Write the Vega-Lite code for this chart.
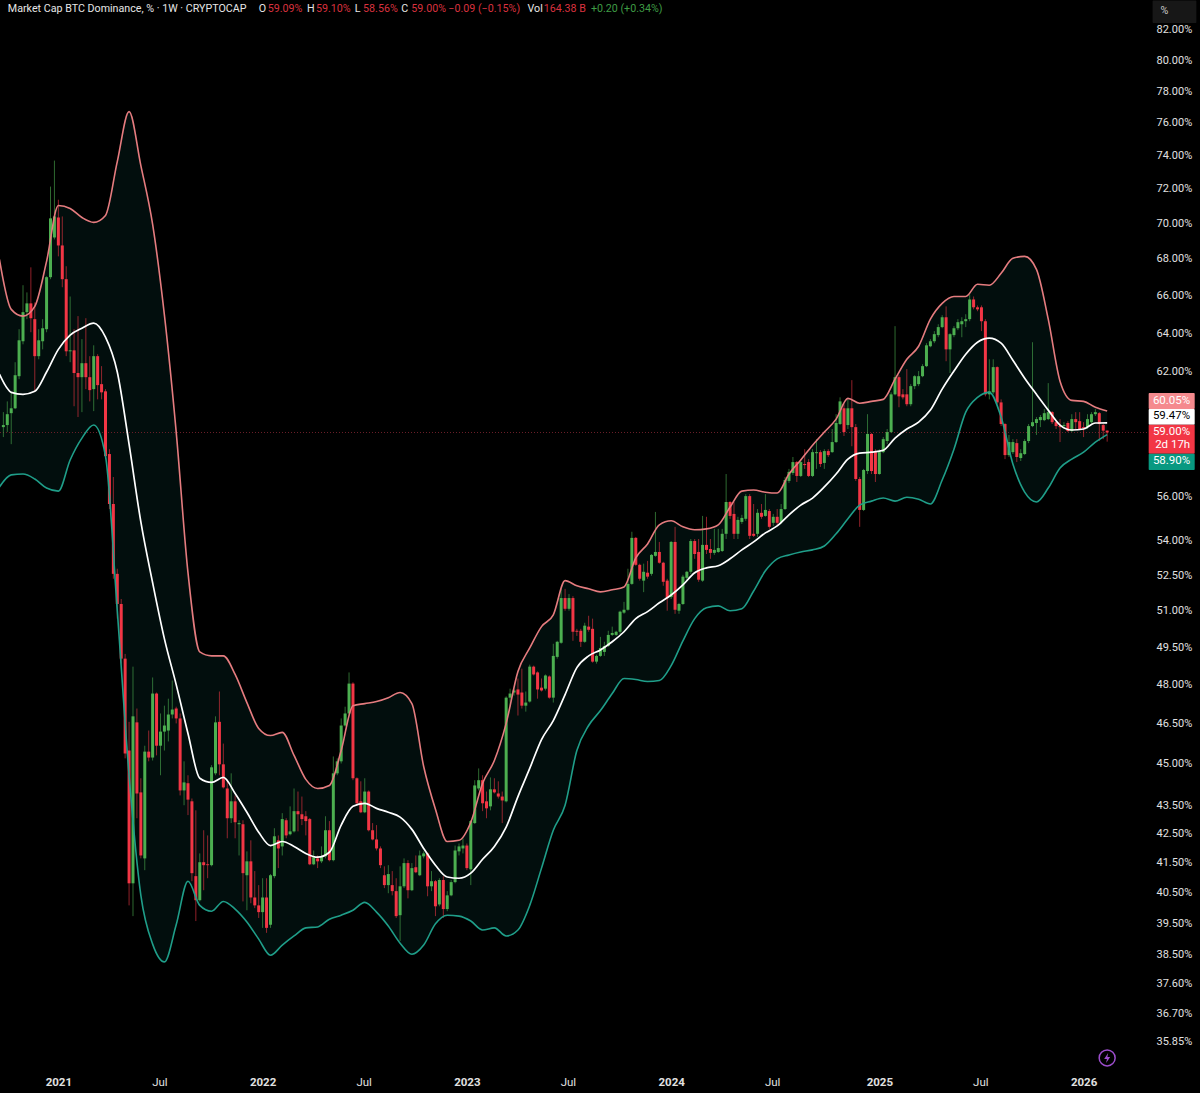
{
"$schema":"https://vega.github.io/schema/vega-lite/v6.json",
"width":1147,"height":1068,"autosize":"none","padding":{"left":0,"top":0,"right":53,"bottom":25},
"background":"#000000",
"config":{"view":{"stroke":null},"font":"Roboto"},
"resolve":{"scale":{"color":"independent"}},
"datasets":{
"candles":[
{"date":"2020-09-28","open":59.26,"high":59.99,"low":58.78,"close":59.36},
{"date":"2020-10-05","open":59.36,"high":60.52,"low":59.02,"close":59.89},
{"date":"2020-10-12","open":59.94,"high":60.97,"low":58.44,"close":60.18},
{"date":"2020-10-19","open":60.18,"high":62.49,"low":60.14,"close":61.83},
{"date":"2020-10-26","open":61.78,"high":64.2,"low":61.63,"close":63.62},
{"date":"2020-11-02","open":63.57,"high":66.55,"low":63.41,"close":65.1},
{"date":"2020-11-09","open":65.1,"high":66.16,"low":64.73,"close":65.57},
{"date":"2020-11-16","open":65.57,"high":67.53,"low":64.04,"close":64.78},
{"date":"2020-11-23","open":64.73,"high":65.62,"low":61.02,"close":62.8},
{"date":"2020-11-30","open":62.8,"high":64.2,"low":62.64,"close":63.62},
{"date":"2020-12-07","open":63.57,"high":64.73,"low":63.15,"close":64.25},
{"date":"2020-12-14","open":64.2,"high":67.04,"low":64.04,"close":66.99},
{"date":"2020-12-21","open":66.99,"high":72.14,"low":66.88,"close":70.29},
{"date":"2020-12-28","open":69.2,"high":73.69,"low":69.09,"close":70.4},
{"date":"2021-01-04","open":70.34,"high":71.37,"low":68.14,"close":68.75},
{"date":"2021-01-11","open":68.75,"high":70.4,"low":66.44,"close":66.88},
{"date":"2021-01-18","open":66.88,"high":67.59,"low":62.8,"close":63.05},
{"date":"2021-01-25","open":63.05,"high":65.94,"low":62.49,"close":63.1},
{"date":"2021-02-01","open":63.1,"high":64.2,"low":60.28,"close":61.94},
{"date":"2021-02-08","open":61.94,"high":64.89,"low":59.75,"close":61.73},
{"date":"2021-02-15","open":61.73,"high":63.68,"low":59.99,"close":62.44},
{"date":"2021-02-22","open":62.44,"high":64.78,"low":61.13,"close":61.73},
{"date":"2021-03-01","open":61.73,"high":62.8,"low":60.52,"close":61.08},
{"date":"2021-03-08","open":61.13,"high":63.36,"low":60.04,"close":62.8},
{"date":"2021-03-15","open":62.8,"high":62.9,"low":60.62,"close":61.33},
{"date":"2021-03-22","open":61.38,"high":62.29,"low":60.62,"close":60.97},
{"date":"2021-03-29","open":61.02,"high":61.13,"low":57.73,"close":57.87},
{"date":"2021-04-05","open":57.97,"high":58.2,"low":55.42,"close":55.65},
{"date":"2021-04-12","open":55.65,"high":56.89,"low":52.35,"close":52.56},
{"date":"2021-04-19","open":52.56,"high":52.78,"low":50.67,"close":51.28},
{"date":"2021-04-26","open":51.28,"high":51.49,"low":48.84,"close":49.04},
{"date":"2021-05-03","open":49.04,"high":49.23,"low":45.2,"close":45.38},
{"date":"2021-05-10","open":45.49,"high":46.57,"low":40.08,"close":40.81},
{"date":"2021-05-17","open":40.81,"high":48.72,"low":39.73,"close":46.78},
{"date":"2021-05-24","open":46.55,"high":47.08,"low":43.04,"close":43.92},
{"date":"2021-05-31","open":43.96,"high":44.47,"low":41.65,"close":41.75},
{"date":"2021-06-07","open":41.65,"high":45.67,"low":41.25,"close":45.45},
{"date":"2021-06-14","open":45.45,"high":46.24,"low":45.09,"close":45.23},
{"date":"2021-06-21","open":45.23,"high":48.29,"low":45.12,"close":47.66},
{"date":"2021-06-28","open":47.66,"high":47.7,"low":45.31,"close":45.67},
{"date":"2021-07-05","open":45.67,"high":46.89,"low":44.58,"close":46.2},
{"date":"2021-07-12","open":46.2,"high":47.19,"low":45.49,"close":46.43},
{"date":"2021-07-19","open":46.24,"high":47.46,"low":45.83,"close":46.85},
{"date":"2021-07-26","open":46.85,"high":48.17,"low":46.7,"close":47.04},
{"date":"2021-08-02","open":47.08,"high":47.15,"low":46.51,"close":46.7},
{"date":"2021-08-09","open":46.7,"high":46.89,"low":43.85,"close":44.03},
{"date":"2021-08-16","open":44.03,"high":45.09,"low":43.5,"close":44.32},
{"date":"2021-08-23","open":44.29,"high":44.58,"low":43.15,"close":43.7},
{"date":"2021-08-30","open":43.64,"high":43.74,"low":40.88,"close":41.15},
{"date":"2021-09-06","open":41.05,"high":43.32,"low":39.57,"close":40.25},
{"date":"2021-09-13","open":40.25,"high":41.82,"low":40.21,"close":41.52},
{"date":"2021-09-20","open":41.52,"high":42.62,"low":40.58,"close":41.42},
{"date":"2021-09-27","open":41.45,"high":42.44,"low":40.98,"close":41.42},
{"date":"2021-10-04","open":41.42,"high":44.95,"low":41.38,"close":44.87},
{"date":"2021-10-11","open":44.65,"high":46.78,"low":44.58,"close":46.55},
{"date":"2021-10-18","open":46.57,"high":47.74,"low":44.58,"close":44.98},
{"date":"2021-10-25","open":44.98,"high":45.75,"low":44.1,"close":44.14},
{"date":"2021-11-01","open":44.1,"high":44.36,"low":42.34,"close":43.04},
{"date":"2021-11-08","open":43.04,"high":44.65,"low":42.87,"close":43.64},
{"date":"2021-11-15","open":43.64,"high":43.85,"low":42.34,"close":42.9},
{"date":"2021-11-22","open":42.83,"high":42.97,"low":41.75,"close":42.87},
{"date":"2021-11-29","open":42.83,"high":42.97,"low":40.21,"close":41.15},
{"date":"2021-12-06","open":41.08,"high":41.89,"low":39.92,"close":41.55},
{"date":"2021-12-13","open":41.55,"high":42.27,"low":40.15,"close":40.34},
{"date":"2021-12-20","open":40.34,"high":41.22,"low":39.99,"close":40.08},
{"date":"2021-12-27","open":40.08,"high":40.75,"low":39.67,"close":39.86},
{"date":"2022-01-03","open":39.86,"high":40.98,"low":39.35,"close":40.34},
{"date":"2022-01-10","open":40.34,"high":40.98,"low":39.19,"close":39.35},
{"date":"2022-01-17","open":39.45,"high":41.12,"low":39.35,"close":41.08},
{"date":"2022-01-24","open":41.05,"high":42.69,"low":40.98,"close":42.41},
{"date":"2022-01-31","open":42.27,"high":42.44,"low":41.32,"close":41.99},
{"date":"2022-02-07","open":42.06,"high":43.22,"low":41.75,"close":43.01},
{"date":"2022-02-14","open":42.97,"high":43.04,"low":42.34,"close":42.44},
{"date":"2022-02-21","open":42.48,"high":43.46,"low":42.44,"close":42.58},
{"date":"2022-02-28","open":42.58,"high":44.1,"low":42.54,"close":43.29},
{"date":"2022-03-07","open":43.29,"high":43.99,"low":42.58,"close":43.18},
{"date":"2022-03-14","open":43.18,"high":43.81,"low":42.8,"close":43.01},
{"date":"2022-03-21","open":43.11,"high":43.29,"low":42.44,"close":42.94},
{"date":"2022-03-28","open":43.01,"high":43.05,"low":41.42,"close":41.45},
{"date":"2022-04-04","open":41.45,"high":41.92,"low":41.42,"close":41.69},
{"date":"2022-04-11","open":41.65,"high":41.75,"low":41.32,"close":41.55},
{"date":"2022-04-18","open":41.55,"high":42.06,"low":41.49,"close":41.72},
{"date":"2022-04-25","open":41.72,"high":43.11,"low":41.65,"close":42.62},
{"date":"2022-05-02","open":42.62,"high":42.94,"low":41.55,"close":41.59},
{"date":"2022-05-09","open":41.59,"high":45.27,"low":41.55,"close":44.65},
{"date":"2022-05-16","open":44.65,"high":45.2,"low":44.58,"close":45.09},
{"date":"2022-05-23","open":45.09,"high":46.7,"low":45.01,"close":46.43},
{"date":"2022-05-30","open":46.43,"high":47.15,"low":46.39,"close":46.89},
{"date":"2022-06-06","open":46.89,"high":48.49,"low":46.81,"close":48.05},
{"date":"2022-06-13","open":48.05,"high":48.1,"low":44.4,"close":44.47},
{"date":"2022-06-20","open":44.47,"high":44.5,"low":43.5,"close":43.57},
{"date":"2022-06-27","open":43.64,"high":44.36,"low":43.22,"close":43.25},
{"date":"2022-07-04","open":43.25,"high":44.47,"low":43.22,"close":43.99},
{"date":"2022-07-11","open":43.99,"high":44.03,"low":42.58,"close":42.62},
{"date":"2022-07-18","open":42.62,"high":42.87,"low":42.27,"close":42.3},
{"date":"2022-07-25","open":42.3,"high":42.8,"low":41.92,"close":41.99},
{"date":"2022-08-01","open":41.99,"high":42.06,"low":41.32,"close":41.42},
{"date":"2022-08-08","open":41.08,"high":41.38,"low":40.65,"close":40.75},
{"date":"2022-08-15","open":40.75,"high":41.42,"low":40.48,"close":41.12},
{"date":"2022-08-22","open":40.75,"high":41.22,"low":40.41,"close":40.55},
{"date":"2022-08-29","open":40.55,"high":40.98,"low":39.67,"close":39.73},
{"date":"2022-09-05","open":39.76,"high":41.38,"low":38.93,"close":40.71},
{"date":"2022-09-12","open":40.71,"high":41.65,"low":40.65,"close":41.49},
{"date":"2022-09-19","open":41.49,"high":41.59,"low":40.31,"close":40.58},
{"date":"2022-09-26","open":40.58,"high":41.49,"low":40.55,"close":41.32},
{"date":"2022-10-03","open":41.35,"high":41.75,"low":41.15,"close":41.18},
{"date":"2022-10-10","open":41.08,"high":41.92,"low":41.05,"close":41.75},
{"date":"2022-10-17","open":41.72,"high":41.89,"low":41.65,"close":41.82},
{"date":"2022-10-24","open":41.82,"high":41.85,"low":40.38,"close":40.71},
{"date":"2022-10-31","open":40.71,"high":41.22,"low":40.55,"close":40.88},
{"date":"2022-11-07","open":40.88,"high":40.92,"low":39.73,"close":40.05},
{"date":"2022-11-14","open":40.11,"high":40.98,"low":40.05,"close":40.92},
{"date":"2022-11-21","open":40.92,"high":41.05,"low":39.67,"close":39.96},
{"date":"2022-11-28","open":39.96,"high":40.55,"low":39.89,"close":40.41},
{"date":"2022-12-05","open":40.41,"high":40.92,"low":40.38,"close":40.85},
{"date":"2022-12-12","open":40.85,"high":42.09,"low":40.81,"close":41.92},
{"date":"2022-12-19","open":41.89,"high":42.16,"low":41.75,"close":42.06},
{"date":"2022-12-26","open":41.99,"high":42.34,"low":41.82,"close":42.09},
{"date":"2023-01-02","open":42.09,"high":42.16,"low":41.25,"close":41.32},
{"date":"2023-01-09","open":41.28,"high":42.97,"low":40.75,"close":42.94},
{"date":"2023-01-16","open":42.87,"high":44.4,"low":42.84,"close":44.21},
{"date":"2023-01-23","open":44.1,"high":44.83,"low":44.03,"close":44.4},
{"date":"2023-01-30","open":44.4,"high":44.58,"low":43.29,"close":43.57},
{"date":"2023-02-06","open":43.64,"high":43.99,"low":43.04,"close":43.39},
{"date":"2023-02-13","open":43.46,"high":44.5,"low":43.32,"close":44.07},
{"date":"2023-02-20","open":44.07,"high":44.47,"low":43.92,"close":43.96},
{"date":"2023-02-27","open":43.92,"high":44.36,"low":43.74,"close":43.81},
{"date":"2023-03-06","open":43.81,"high":43.99,"low":42.87,"close":43.67},
{"date":"2023-03-13","open":43.64,"high":47.55,"low":43.6,"close":47.5},
{"date":"2023-03-20","open":47.5,"high":47.85,"low":47.15,"close":47.66},
{"date":"2023-03-27","open":47.7,"high":47.85,"low":47.58,"close":47.78},
{"date":"2023-04-03","open":47.82,"high":48.25,"low":46.81,"close":47.62},
{"date":"2023-04-10","open":47.7,"high":48.64,"low":47.08,"close":47.19},
{"date":"2023-04-17","open":47.19,"high":47.74,"low":46.96,"close":47.31},
{"date":"2023-04-24","open":47.35,"high":48.8,"low":47.31,"close":48.72},
{"date":"2023-05-01","open":48.72,"high":48.76,"low":48.37,"close":48.41},
{"date":"2023-05-08","open":48.49,"high":48.53,"low":47.46,"close":47.82},
{"date":"2023-05-15","open":47.89,"high":48.25,"low":47.74,"close":47.78},
{"date":"2023-05-22","open":47.85,"high":48.41,"low":47.78,"close":48.37},
{"date":"2023-05-29","open":48.33,"high":48.37,"low":47.46,"close":47.5},
{"date":"2023-06-05","open":47.5,"high":49.64,"low":47.31,"close":49.15},
{"date":"2023-06-12","open":49.11,"high":49.76,"low":49.04,"close":49.72},
{"date":"2023-06-19","open":49.68,"high":51.92,"low":49.64,"close":51.53},
{"date":"2023-06-26","open":51.53,"high":51.92,"low":51.0,"close":51.08},
{"date":"2023-07-03","open":51.08,"high":51.7,"low":51.0,"close":51.53},
{"date":"2023-07-10","open":51.53,"high":51.61,"low":49.76,"close":50.13},
{"date":"2023-07-17","open":50.17,"high":50.25,"low":49.96,"close":50.13},
{"date":"2023-07-24","open":50.17,"high":50.25,"low":49.51,"close":49.72},
{"date":"2023-07-31","open":49.72,"high":50.5,"low":49.68,"close":50.38},
{"date":"2023-08-07","open":50.34,"high":50.79,"low":50.13,"close":50.21},
{"date":"2023-08-14","open":50.25,"high":50.67,"low":48.88,"close":48.92},
{"date":"2023-08-21","open":48.92,"high":49.2,"low":48.84,"close":49.15},
{"date":"2023-08-28","open":49.15,"high":49.92,"low":49.11,"close":49.47},
{"date":"2023-09-04","open":49.31,"high":49.72,"low":49.15,"close":49.55},
{"date":"2023-09-11","open":49.55,"high":50.17,"low":49.51,"close":50.0},
{"date":"2023-09-18","open":50.0,"high":50.34,"low":49.96,"close":50.08},
{"date":"2023-09-25","open":50.0,"high":50.17,"low":49.96,"close":50.13},
{"date":"2023-10-02","open":50.13,"high":51.0,"low":50.04,"close":50.96},
{"date":"2023-10-09","open":50.92,"high":51.37,"low":50.87,"close":51.04},
{"date":"2023-10-16","open":51.04,"high":52.78,"low":51.0,"close":52.13},
{"date":"2023-10-23","open":52.13,"high":54.4,"low":52.09,"close":54.13},
{"date":"2023-10-30","open":54.13,"high":54.17,"low":52.91,"close":52.95},
{"date":"2023-11-06","open":52.95,"high":53.0,"low":52.27,"close":52.35},
{"date":"2023-11-13","open":52.27,"high":53.0,"low":51.78,"close":52.65},
{"date":"2023-11-20","open":52.61,"high":53.12,"low":52.35,"close":52.44},
{"date":"2023-11-27","open":52.56,"high":53.42,"low":52.48,"close":53.38},
{"date":"2023-12-04","open":53.34,"high":55.29,"low":53.3,"close":53.51},
{"date":"2023-12-11","open":53.51,"high":53.95,"low":53.0,"close":53.04},
{"date":"2023-12-18","open":53.04,"high":53.08,"low":52.05,"close":52.22},
{"date":"2023-12-25","open":52.27,"high":52.35,"low":51.0,"close":51.53},
{"date":"2024-01-01","open":51.57,"high":53.99,"low":51.49,"close":53.95},
{"date":"2024-01-08","open":53.95,"high":54.62,"low":50.87,"close":51.04},
{"date":"2024-01-15","open":51.0,"high":51.33,"low":50.87,"close":51.28},
{"date":"2024-01-22","open":51.28,"high":52.52,"low":51.24,"close":52.44},
{"date":"2024-01-29","open":52.39,"high":52.69,"low":52.27,"close":52.65},
{"date":"2024-02-05","open":52.65,"high":54.08,"low":52.56,"close":53.99},
{"date":"2024-02-12","open":53.99,"high":54.08,"low":53.21,"close":53.42},
{"date":"2024-02-19","open":53.51,"high":54.08,"low":52.22,"close":52.31},
{"date":"2024-02-26","open":52.27,"high":55.11,"low":52.22,"close":53.82},
{"date":"2024-03-04","open":53.82,"high":55.07,"low":53.42,"close":53.6},
{"date":"2024-03-11","open":53.64,"high":54.08,"low":53.21,"close":53.47},
{"date":"2024-03-18","open":53.47,"high":54.53,"low":53.38,"close":53.6},
{"date":"2024-03-25","open":53.51,"high":54.53,"low":53.47,"close":53.68},
{"date":"2024-04-01","open":53.55,"high":54.53,"low":53.51,"close":54.31},
{"date":"2024-04-08","open":54.31,"high":57.03,"low":54.08,"close":55.74},
{"date":"2024-04-15","open":55.74,"high":55.78,"low":54.98,"close":55.11},
{"date":"2024-04-22","open":55.2,"high":55.74,"low":54.08,"close":54.31},
{"date":"2024-04-29","open":54.31,"high":55.07,"low":54.08,"close":54.93},
{"date":"2024-05-06","open":54.84,"high":55.16,"low":54.75,"close":55.02},
{"date":"2024-05-13","open":54.98,"high":56.1,"low":54.89,"close":56.01},
{"date":"2024-05-20","open":56.01,"high":56.1,"low":54.08,"close":54.22},
{"date":"2024-05-27","open":54.31,"high":55.65,"low":54.17,"close":54.22},
{"date":"2024-06-03","open":54.31,"high":55.42,"low":54.17,"close":55.25},
{"date":"2024-06-10","open":55.25,"high":55.65,"low":54.98,"close":55.07},
{"date":"2024-06-17","open":55.11,"high":56.1,"low":55.07,"close":55.38},
{"date":"2024-06-24","open":55.33,"high":55.42,"low":54.53,"close":54.62},
{"date":"2024-07-01","open":54.8,"high":55.2,"low":54.66,"close":55.07},
{"date":"2024-07-08","open":55.07,"high":55.42,"low":54.66,"close":54.8},
{"date":"2024-07-15","open":54.84,"high":55.65,"low":54.75,"close":55.42},
{"date":"2024-07-22","open":55.42,"high":56.89,"low":55.38,"close":56.75},
{"date":"2024-07-29","open":56.71,"high":57.27,"low":56.62,"close":57.13},
{"date":"2024-08-05","open":57.08,"high":57.83,"low":56.99,"close":57.59},
{"date":"2024-08-12","open":57.59,"high":57.64,"low":56.66,"close":56.94},
{"date":"2024-08-19","open":56.94,"high":57.73,"low":56.89,"close":57.59},
{"date":"2024-08-26","open":57.5,"high":58.2,"low":57.27,"close":57.45},
{"date":"2024-09-02","open":57.59,"high":57.73,"low":56.89,"close":56.94},
{"date":"2024-09-09","open":56.94,"high":58.2,"low":56.89,"close":58.06},
{"date":"2024-09-16","open":58.01,"high":58.68,"low":57.27,"close":58.06},
{"date":"2024-09-23","open":58.06,"high":58.15,"low":57.36,"close":57.5},
{"date":"2024-09-30","open":57.55,"high":58.2,"low":57.27,"close":58.11},
{"date":"2024-10-07","open":58.11,"high":58.2,"low":57.83,"close":57.92},
{"date":"2024-10-14","open":58.06,"high":59.17,"low":58.03,"close":58.54},
{"date":"2024-10-21","open":58.54,"high":59.89,"low":58.5,"close":59.46},
{"date":"2024-10-28","open":59.41,"high":60.72,"low":59.36,"close":60.52},
{"date":"2024-11-04","open":60.18,"high":60.38,"low":58.83,"close":59.02},
{"date":"2024-11-11","open":59.36,"high":60.62,"low":59.17,"close":60.18},
{"date":"2024-11-18","open":60.18,"high":61.58,"low":58.34,"close":59.26},
{"date":"2024-11-25","open":59.26,"high":59.41,"low":56.71,"close":56.8},
{"date":"2024-12-02","open":56.8,"high":56.89,"low":54.62,"close":55.38},
{"date":"2024-12-09","open":55.38,"high":57.27,"low":55.33,"close":57.22},
{"date":"2024-12-16","open":57.17,"high":59.89,"low":57.03,"close":58.93},
{"date":"2024-12-23","open":58.93,"high":58.97,"low":57.03,"close":57.17},
{"date":"2024-12-30","open":58.06,"high":58.2,"low":56.66,"close":57.03},
{"date":"2025-01-06","open":57.03,"high":58.2,"low":57.0,"close":58.06},
{"date":"2025-01-13","open":58.06,"high":58.78,"low":58.01,"close":58.68},
{"date":"2025-01-20","open":58.59,"high":59.17,"low":58.44,"close":59.02},
{"date":"2025-01-27","open":59.02,"high":60.97,"low":58.97,"close":60.87},
{"date":"2025-02-03","open":60.87,"high":64.36,"low":60.82,"close":61.73},
{"date":"2025-02-10","open":61.73,"high":61.83,"low":60.23,"close":60.77},
{"date":"2025-02-17","open":60.87,"high":61.13,"low":60.62,"close":60.72},
{"date":"2025-02-24","open":60.87,"high":62.14,"low":60.28,"close":60.38},
{"date":"2025-03-03","open":60.38,"high":61.38,"low":60.28,"close":61.28},
{"date":"2025-03-10","open":61.28,"high":61.83,"low":61.13,"close":61.78},
{"date":"2025-03-17","open":61.38,"high":62.04,"low":61.28,"close":61.78},
{"date":"2025-03-24","open":61.78,"high":62.39,"low":61.73,"close":62.29},
{"date":"2025-03-31","open":62.29,"high":63.47,"low":62.24,"close":63.36},
{"date":"2025-04-07","open":63.31,"high":63.68,"low":63.26,"close":63.57},
{"date":"2025-04-14","open":63.57,"high":64.1,"low":63.47,"close":63.94},
{"date":"2025-04-21","open":63.89,"high":64.46,"low":63.78,"close":64.31},
{"date":"2025-04-28","open":64.31,"high":64.94,"low":64.25,"close":64.83},
{"date":"2025-05-05","open":64.83,"high":65.41,"low":62.54,"close":63.15},
{"date":"2025-05-12","open":63.15,"high":63.99,"low":61.94,"close":63.94},
{"date":"2025-05-19","open":63.89,"high":64.36,"low":63.78,"close":64.25},
{"date":"2025-05-26","open":64.25,"high":64.73,"low":64.15,"close":64.57},
{"date":"2025-06-02","open":64.46,"high":64.83,"low":63.78,"close":64.62},
{"date":"2025-06-09","open":64.62,"high":64.99,"low":64.31,"close":64.73},
{"date":"2025-06-16","open":64.73,"high":66.05,"low":64.62,"close":65.78},
{"date":"2025-06-23","open":65.78,"high":65.94,"low":65.25,"close":65.36},
{"date":"2025-06-30","open":65.36,"high":65.46,"low":65.15,"close":65.25},
{"date":"2025-07-07","open":65.36,"high":65.46,"low":64.1,"close":64.62},
{"date":"2025-07-14","open":64.62,"high":64.73,"low":60.77,"close":60.87},
{"date":"2025-07-21","open":60.87,"high":62.64,"low":60.62,"close":61.02},
{"date":"2025-07-28","open":60.97,"high":62.64,"low":60.87,"close":62.24},
{"date":"2025-08-04","open":62.24,"high":62.28,"low":60.38,"close":60.47},
{"date":"2025-08-11","open":60.47,"high":60.62,"low":59.31,"close":59.41},
{"date":"2025-08-18","open":59.41,"high":59.45,"low":57.73,"close":57.92},
{"date":"2025-08-25","open":57.92,"high":58.88,"low":57.83,"close":58.54},
{"date":"2025-09-01","open":58.06,"high":58.68,"low":57.97,"close":58.54},
{"date":"2025-09-08","open":58.49,"high":58.68,"low":57.59,"close":57.83},
{"date":"2025-09-15","open":57.78,"high":58.2,"low":57.64,"close":58.01},
{"date":"2025-09-22","open":57.97,"high":58.68,"low":57.92,"close":58.59},
{"date":"2025-09-29","open":58.59,"high":59.41,"low":58.49,"close":59.31},
{"date":"2025-10-06","open":59.31,"high":63.52,"low":59.26,"close":59.5},
{"date":"2025-10-13","open":59.46,"high":59.75,"low":58.88,"close":59.65},
{"date":"2025-10-20","open":59.6,"high":59.85,"low":59.26,"close":59.75},
{"date":"2025-10-27","open":59.6,"high":60.14,"low":59.55,"close":59.94},
{"date":"2025-11-03","open":59.65,"high":61.43,"low":59.6,"close":59.99},
{"date":"2025-11-10","open":59.99,"high":60.04,"low":59.41,"close":59.5},
{"date":"2025-11-17","open":59.5,"high":59.55,"low":59.17,"close":59.31},
{"date":"2025-11-24","open":59.31,"high":59.65,"low":58.54,"close":59.26},
{"date":"2025-12-01","open":59.31,"high":59.5,"low":59.17,"close":59.36},
{"date":"2025-12-08","open":59.46,"high":59.55,"low":59.02,"close":59.07},
{"date":"2025-12-15","open":59.07,"high":59.89,"low":59.02,"close":59.65},
{"date":"2025-12-22","open":59.65,"high":59.99,"low":59.17,"close":59.5},
{"date":"2025-12-29","open":59.55,"high":59.99,"low":59.12,"close":59.17},
{"date":"2026-01-05","open":59.26,"high":59.5,"low":58.78,"close":59.21},
{"date":"2026-01-12","open":59.26,"high":59.89,"low":59.17,"close":59.65},
{"date":"2026-01-19","open":59.5,"high":59.99,"low":59.41,"close":59.89},
{"date":"2026-01-26","open":59.89,"high":60.14,"low":59.8,"close":59.99},
{"date":"2026-02-02","open":59.94,"high":59.99,"low":58.59,"close":59.41},
{"date":"2026-02-09","open":59.36,"high":59.41,"low":58.68,"close":59.09},
{"date":"2026-02-16","open":59.09,"high":59.10,"low":58.56,"close":59.00}
],
"bands":[
{"date":"2020-09-21","upper":67.97,"basis":61.88,"lower":56.43},
{"date":"2020-10-12","upper":65.25,"basis":60.97,"lower":56.99},
{"date":"2020-11-02","upper":64.89,"basis":60.87,"lower":57.03},
{"date":"2020-11-23","upper":65.41,"basis":61.02,"lower":56.8},
{"date":"2020-12-14","upper":67.86,"basis":61.99,"lower":56.38},
{"date":"2021-01-04","upper":71.03,"basis":63.15,"lower":56.24},
{"date":"2021-01-25","upper":70.86,"basis":63.89,"lower":57.69},
{"date":"2021-02-15","upper":70.34,"basis":64.25,"lower":58.73},
{"date":"2021-03-08","upper":70.06,"basis":64.52,"lower":59.36},
{"date":"2021-03-29","upper":70.46,"basis":63.78,"lower":57.87},
{"date":"2021-04-19","upper":73.63,"basis":61.99,"lower":51.0},
{"date":"2021-05-10","upper":76.7,"basis":58.44,"lower":44.58},
{"date":"2021-05-31","upper":73.39,"basis":54.84,"lower":40.41},
{"date":"2021-06-21","upper":69.94,"basis":52.18,"lower":38.83},
{"date":"2021-07-12","upper":64.94,"basis":49.84,"lower":38.27},
{"date":"2021-08-02","upper":59.02,"basis":48.01,"lower":39.45},
{"date":"2021-08-23","upper":52.61,"basis":46.13,"lower":40.88},
{"date":"2021-09-13","upper":49.31,"basis":44.47,"lower":40.08},
{"date":"2021-10-04","upper":49.15,"basis":44.32,"lower":39.89},
{"date":"2021-10-25","upper":49.15,"basis":44.5,"lower":40.21},
{"date":"2021-11-15","upper":48.41,"basis":43.92,"lower":39.96},
{"date":"2021-12-06","upper":47.31,"basis":43.25,"lower":39.54},
{"date":"2021-12-27","upper":46.32,"basis":42.55,"lower":38.99},
{"date":"2022-01-17","upper":46.05,"basis":42.09,"lower":38.48},
{"date":"2022-02-07","upper":46.17,"basis":42.23,"lower":38.8},
{"date":"2022-02-28","upper":45.31,"basis":42.06,"lower":39.09},
{"date":"2022-03-21","upper":44.43,"basis":41.82,"lower":39.35},
{"date":"2022-04-11","upper":44.1,"basis":41.69,"lower":39.38},
{"date":"2022-05-02","upper":44.21,"basis":41.86,"lower":39.63},
{"date":"2022-05-23","upper":45.49,"basis":42.8,"lower":39.76},
{"date":"2022-06-13","upper":47.19,"basis":43.46,"lower":39.92},
{"date":"2022-07-04","upper":47.27,"basis":43.57,"lower":40.18},
{"date":"2022-07-25","upper":47.35,"basis":43.39,"lower":39.86},
{"date":"2022-08-15","upper":47.5,"basis":43.25,"lower":39.41},
{"date":"2022-09-05","upper":47.7,"basis":43.08,"lower":38.86},
{"date":"2022-09-26","upper":47.27,"basis":42.65,"lower":38.51},
{"date":"2022-10-17","upper":44.9,"basis":41.99,"lower":38.8},
{"date":"2022-11-07","upper":43.36,"basis":41.42,"lower":39.48},
{"date":"2022-11-28","upper":42.23,"basis":41.02,"lower":39.76},
{"date":"2022-12-19","upper":42.27,"basis":40.98,"lower":39.73},
{"date":"2023-01-09","upper":42.9,"basis":41.15,"lower":39.57},
{"date":"2023-01-30","upper":44.29,"basis":41.62,"lower":39.28},
{"date":"2023-02-20","upper":45.12,"basis":42.06,"lower":39.35},
{"date":"2023-03-13","upper":46.51,"basis":42.73,"lower":39.09},
{"date":"2023-04-03","upper":48.53,"basis":43.81,"lower":39.28},
{"date":"2023-04-24","upper":49.47,"basis":44.83,"lower":40.08},
{"date":"2023-05-15","upper":50.34,"basis":45.9,"lower":41.32},
{"date":"2023-06-05","upper":50.83,"basis":46.62,"lower":42.62},
{"date":"2023-06-26","upper":52.27,"basis":47.62,"lower":43.5},
{"date":"2023-07-17","upper":52.05,"basis":48.68,"lower":45.49},
{"date":"2023-08-07","upper":51.92,"basis":49.15,"lower":46.43},
{"date":"2023-08-28","upper":51.79,"basis":49.39,"lower":47.0},
{"date":"2023-09-18","upper":51.88,"basis":49.72,"lower":47.66},
{"date":"2023-10-09","upper":52.0,"basis":50.13,"lower":48.25},
{"date":"2023-10-30","upper":53.25,"basis":50.67,"lower":48.21},
{"date":"2023-11-20","upper":53.86,"basis":50.96,"lower":48.13},
{"date":"2023-12-11","upper":54.71,"basis":51.33,"lower":48.17},
{"date":"2024-01-01","upper":54.89,"basis":51.66,"lower":48.76},
{"date":"2024-01-22","upper":54.62,"basis":52.09,"lower":49.76},
{"date":"2024-02-12","upper":54.49,"basis":52.61,"lower":50.67},
{"date":"2024-03-04","upper":54.53,"basis":52.82,"lower":51.12},
{"date":"2024-03-25","upper":54.71,"basis":52.91,"lower":51.2},
{"date":"2024-04-15","upper":55.51,"basis":53.21,"lower":51.0},
{"date":"2024-05-06","upper":56.24,"basis":53.6,"lower":51.08},
{"date":"2024-05-27","upper":56.29,"basis":53.95,"lower":51.83},
{"date":"2024-06-17","upper":56.19,"basis":54.35,"lower":52.69},
{"date":"2024-07-08","upper":56.15,"basis":54.66,"lower":53.21},
{"date":"2024-07-29","upper":57.03,"basis":55.16,"lower":53.38},
{"date":"2024-08-19","upper":57.69,"basis":55.6,"lower":53.51},
{"date":"2024-09-09","upper":58.39,"basis":55.92,"lower":53.6},
{"date":"2024-09-30","upper":59.02,"basis":56.43,"lower":53.77},
{"date":"2024-10-21","upper":59.65,"basis":57.03,"lower":54.31},
{"date":"2024-11-11","upper":60.67,"basis":57.73,"lower":54.98},
{"date":"2024-12-02","upper":60.43,"basis":58.01,"lower":55.6},
{"date":"2024-12-23","upper":60.52,"basis":58.06,"lower":55.78},
{"date":"2025-01-13","upper":60.62,"basis":58.15,"lower":55.92},
{"date":"2025-02-03","upper":61.63,"basis":58.73,"lower":55.78},
{"date":"2025-02-24","upper":62.64,"basis":59.17,"lower":55.96},
{"date":"2025-03-17","upper":63.31,"basis":59.5,"lower":55.87},
{"date":"2025-04-07","upper":64.73,"basis":60.09,"lower":55.65},
{"date":"2025-04-28","upper":65.57,"basis":61.13,"lower":56.75},
{"date":"2025-05-19","upper":65.94,"basis":62.04,"lower":58.2},
{"date":"2025-06-09","upper":65.94,"basis":62.9,"lower":59.99},
{"date":"2025-06-30","upper":66.6,"basis":63.52,"lower":60.72},
{"date":"2025-07-21","upper":66.55,"basis":63.73,"lower":60.97},
{"date":"2025-08-11","upper":67.2,"basis":63.47,"lower":59.75},
{"date":"2025-09-01","upper":68.03,"basis":62.59,"lower":57.5},
{"date":"2025-09-22","upper":68.14,"basis":61.68,"lower":56.19},
{"date":"2025-10-13","upper":67.42,"basis":60.87,"lower":55.74},
{"date":"2025-11-03","upper":64.73,"basis":60.09,"lower":56.38},
{"date":"2025-11-24","upper":61.53,"basis":59.36,"lower":57.31},
{"date":"2025-12-15","upper":60.57,"basis":59.12,"lower":57.73},
{"date":"2026-01-05","upper":60.52,"basis":59.17,"lower":58.06},
{"date":"2026-01-26","upper":60.23,"basis":59.46,"lower":58.54},
{"date":"2026-02-16","upper":60.05,"basis":59.47,"lower":58.9}
],
"tags":[
{"date":"2026-05-01","date2":"2026-07-22","top":60.94,"bottom":60.15,"tag":"upper"},
{"date":"2026-05-01","date2":"2026-07-22","top":60.15,"bottom":59.37,"tag":"basis"},
{"date":"2026-05-01","date2":"2026-07-22","top":59.37,"bottom":57.98,"tag":"last"},
{"date":"2026-05-01","date2":"2026-07-22","top":57.98,"bottom":57.22,"tag":"lower"},
{"date":"2026-05-08","date2":"2026-07-25","top":84.0,"bottom":82.47,"tag":"unit"}
],
"tagText":[
{"date":"2026-07-14","price":60.55,"text":"60.05%","tag":"upper"},
{"date":"2026-07-14","price":59.78,"text":"59.47%","tag":"basis"},
{"date":"2026-07-14","price":59.02,"text":"59.00%","tag":"last"},
{"date":"2026-07-14","price":58.39,"text":"2d 17h","tag":"last"},
{"date":"2026-07-14","price":57.62,"text":"58.90%","tag":"lower"}
],
"header":[
{"date":"2020-10-06","price":83.42,"text":"Market Cap BTC Dominance, % · 1W · CRYPTOCAP","tone":"plain"},
{"date":"2021-12-27","price":83.42,"text":"O","tone":"plain"},
{"date":"2022-01-12","price":83.42,"text":"59.09%","tone":"down"},
{"date":"2022-03-23","price":83.42,"text":"H","tone":"plain"},
{"date":"2022-04-08","price":83.42,"text":"59.10%","tone":"down"},
{"date":"2022-06-16","price":83.42,"text":"L","tone":"plain"},
{"date":"2022-07-01","price":83.42,"text":"58.56%","tone":"down"},
{"date":"2022-09-07","price":83.42,"text":"C","tone":"plain"},
{"date":"2022-09-25","price":83.42,"text":"59.00%","tone":"down"},
{"date":"2022-11-30","price":83.42,"text":"−0.09 (−0.15%)","tone":"down"},
{"date":"2023-04-20","price":83.42,"text":"Vol","tone":"plain"},
{"date":"2023-05-19","price":83.42,"text":"164.38 B","tone":"down"},
{"date":"2023-08-11","price":83.42,"text":"+0.20 (+0.34%)","tone":"up"},
{"date":"2026-05-22","price":83.28,"text":"%","tone":"muted"}
],
"lastPrice":[{"price":59.0}],
"badge":[{"date":"2026-02-16","price":35.38}]
},
"encoding":{
"x":{"field":"date","type":"temporal","title":null,
"scale":{"type":"utc","domain":[{"year":2020,"month":9,"date":22,"utc":true},{"year":2026,"month":4,"date":28,"utc":true}]},
"axis":{"orient":"bottom","title":null,"domain":false,"ticks":false,"grid":false,"labelPadding":8,"labelFontSize":11.5,"labelColor":"#e0e0e0","labelFlush":false,"labelOverlap":false,
"values":[{"year":2021,"month":1,"date":4,"utc":true},{"year":2021,"month":7,"date":3,"utc":true},{"year":2022,"month":1,"date":3,"utc":true},{"year":2022,"month":7,"date":2,"utc":true},{"year":2023,"month":1,"date":2,"utc":true},{"year":2023,"month":7,"date":1,"utc":true},{"year":2024,"month":1,"date":1,"utc":true},{"year":2024,"month":6,"date":29,"utc":true},{"year":2025,"month":1,"date":6,"utc":true},{"year":2025,"month":7,"date":5,"utc":true},{"year":2026,"month":1,"date":5,"utc":true}],
"labelExpr":"utcmonth(datum.value)==0 ? utcyear(datum.value)+'' : 'Jul'",
"labelFontWeight":{"condition":{"test":"utcmonth(datum.value)==0","value":"bold"},"value":"normal"}}}
},
"layer":[
{"data":{"name":"bands"},"mark":{"type":"area","color":"#020e0d","interpolate":"monotone"},
"encoding":{"y":{"field":"upper","type":"quantitative","title":null,
"scale":{"type":"log","domain":[35.09,84.03],"nice":false,"zero":false},
"axis":{"orient":"right","title":null,"domain":false,"ticks":false,"grid":false,"labelPadding":9,"labelFontSize":11,"labelColor":"#e0e0e0","labelOverlap":false,"labelFlush":false,"labelBound":false,
"values":[82,80,78,76,74,72,70,68,66,64,62,56,54,52.5,51,49.5,48,46.5,45,43.5,42.5,41.5,40.5,39.5,38.5,37.6,36.7,35.85],
"labelExpr":"format(datum.value,'.2f')+'%'"}},
"y2":{"field":"lower"}}},
{"data":{"name":"lastPrice"},"mark":{"type":"rule","color":"#6b1f29","strokeDash":[1,2],"strokeWidth":1},
"encoding":{"x":null,"y":{"field":"price","type":"quantitative","title":null}}},
{"data":{"name":"candles"},"mark":{"type":"rule","strokeWidth":1,"opacity":0.6},
"encoding":{"y":{"field":"low","type":"quantitative","title":null},"y2":{"field":"high"},
"color":{"condition":{"test":"datum.close>=datum.open","value":"#4caf50"},"value":"#f23645"}}},
{"data":{"name":"candles"},"mark":{"type":"rule","strokeWidth":3},
"encoding":{"y":{"field":"open","type":"quantitative","title":null},"y2":{"field":"close"},
"color":{"condition":{"test":"datum.close>=datum.open","value":"#4caf50"},"value":"#f23645"}}},
{"data":{"name":"bands"},"mark":{"type":"line","color":"#e57c7f","strokeWidth":1.6,"interpolate":"monotone"},
"encoding":{"y":{"field":"upper","type":"quantitative","title":null}}},
{"data":{"name":"bands"},"mark":{"type":"line","color":"#1f9e89","strokeWidth":1.6,"interpolate":"monotone"},
"encoding":{"y":{"field":"lower","type":"quantitative","title":null}}},
{"data":{"name":"bands"},"mark":{"type":"line","color":"#ffffff","strokeWidth":1.7,"interpolate":"monotone"},
"encoding":{"y":{"field":"basis","type":"quantitative","title":null}}},
{"data":{"name":"tags"},"mark":{"type":"rect","cornerRadius":1},
"encoding":{"x2":{"field":"date2"},"y":{"field":"top","type":"quantitative","title":null},"y2":{"field":"bottom"},
"color":{"field":"tag","type":"nominal","legend":null,"scale":{"domain":["upper","basis","last","lower","unit"],"range":["#f58a8e","#ffffff","#f23645","#089981","#171717"]}}}},
{"data":{"name":"tagText"},"mark":{"type":"text","align":"right","baseline":"middle","fontSize":11.5},
"encoding":{"y":{"field":"price","type":"quantitative","title":null},"text":{"field":"text"},
"color":{"condition":{"test":"datum.tag=='basis'","value":"#000000"},"value":"#ffffff"}}},
{"data":{"name":"header"},"mark":{"type":"text","align":"left","baseline":"middle","fontSize":10.7},
"encoding":{"y":{"field":"price","type":"quantitative","title":null},"text":{"field":"text"},
"color":{"field":"tone","type":"nominal","legend":null,"scale":{"domain":["plain","down","up","muted"],"range":["#e6e6e6","#d9323f","#3f9c45","#c8c8c8"]}}}},
{"data":{"name":"badge"},"mark":{"type":"point","shape":"circle","filled":false,"size":254,"strokeWidth":1.5,"color":"#9c4dcc","opacity":1},
"encoding":{"y":{"field":"price","type":"quantitative","title":null}}},
{"data":{"name":"badge"},"mark":{"type":"point","shape":"M0.2,-1L-0.6,0.2L-0.05,0.2L-0.2,1L0.6,-0.2L0.05,-0.2Z","filled":true,"size":100,"color":"#9c4dcc","opacity":1},
"encoding":{"y":{"field":"price","type":"quantitative","title":null}}}
]
}
